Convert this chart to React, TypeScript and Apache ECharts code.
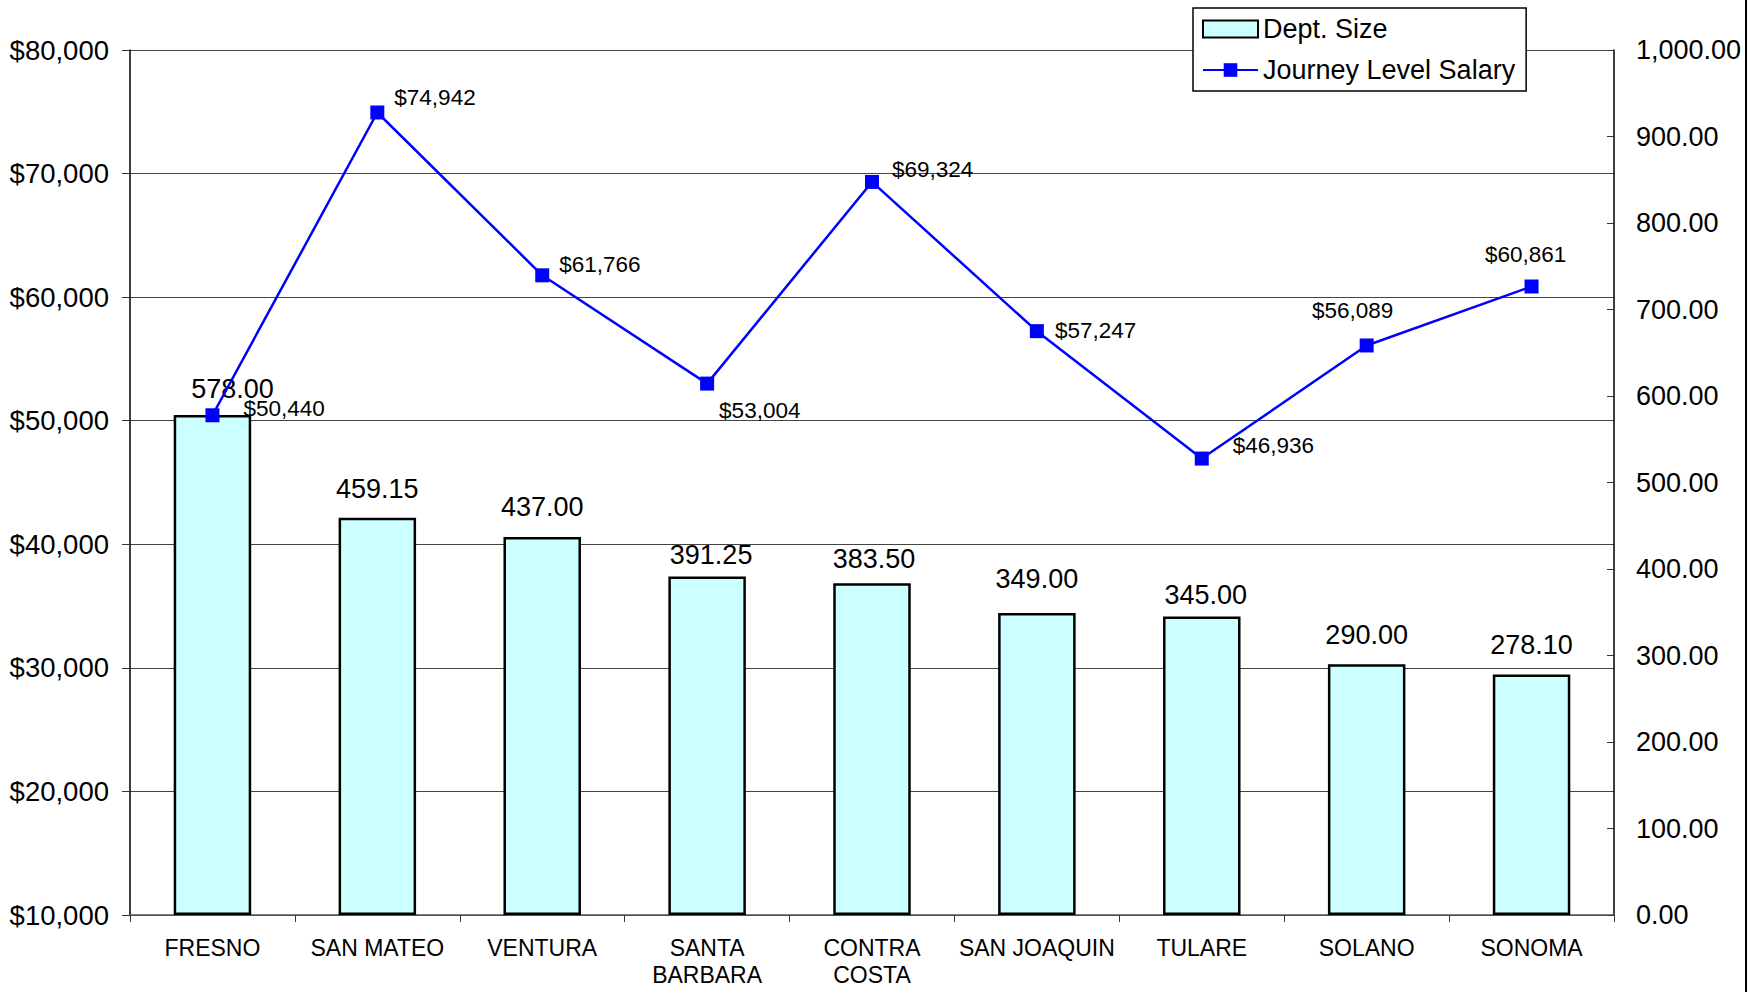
import React, { useEffect, useRef } from "react";
import * as echarts from "echarts";

const categories = ["FRESNO", "SAN MATEO", "VENTURA", "SANTA\nBARBARA", "CONTRA\nCOSTA", "SAN JOAQUIN", "TULARE", "SOLANO", "SONOMA"];
const deptSize = [578.0, 459.15, 437.0, 391.25, 383.5, 349.0, 345.0, 290.0, 278.1];
const salary = [50440, 74942, 61766, 53004, 69324, 57247, 46936, 56089, 60861];

// label placement tweaks (not data)
const barLabelOffsets: [number, number][] = [[20, 2], [0, 0], [0, -1], [4, 7], [2, 4], [0, -6], [4, 7], [0, -1], [0, -1]];
const lineLabelPos: string[] = ["right", "right", "right", "right", "right", "right", "right", "top", "top"];
const lineLabelOffsets: [number, number][] = [[24, -7], [10, -15], [10, -11], [5, 27], [13, -12], [11, -1], [24, -13], [-14, -16], [-6, -14]];

const FONT = "'Liberation Sans', Arial, sans-serif";

export default function App() {
  const ref = useRef<HTMLDivElement>(null);
  useEffect(() => {
    if (!ref.current) return;
    const chart = echarts.init(ref.current, undefined, { renderer: "svg" });
    chart.setOption({
      animation: false,
      backgroundColor: "#ffffff",
      textStyle: { fontFamily: FONT, color: "#000" },
      grid: { left: 130, right: 149, top: 50, bottom: 77, containLabel: false },
      legend: {
        left: 1193,
        top: 8,
        orient: "vertical",
        backgroundColor: "#fff",
        borderColor: "#000",
        borderWidth: 1.5,
        padding: [6, 11, 6, 9],
        itemGap: 11,
        itemWidth: 55,
        itemHeight: 17,
        textStyle: { fontSize: 27, color: "#000", fontFamily: FONT, lineHeight: 30, padding: [0, 0, 0, 0] },
        data: [
          { name: "Dept. Size", icon: "rect" },
          { name: "Journey Level Salary" },
        ],
      },
      xAxis: {
        type: "category",
        data: categories,
        boundaryGap: true,
        axisLine: { show: true, lineStyle: { color: "#555", width: 1.5 } },
        axisTick: { show: true, alignWithLabel: false, length: 7, lineStyle: { color: "#333", width: 1 } },
        axisLabel: { fontSize: 23, color: "#000", margin: 19, lineHeight: 27, fontFamily: FONT, interval: 0 },
      },
      yAxis: [
        {
          type: "value",
          min: 10000,
          max: 80000,
          interval: 10000,
          position: "left",
          axisLine: { show: true, lineStyle: { color: "#000", width: 1.5 } },
          axisTick: { show: true, length: 8, lineStyle: { color: "#333" } },
          axisLabel: {
            fontSize: 27.5,
            color: "#000",
            margin: 21,
            fontFamily: FONT,
            formatter: (v: number) => "$" + v.toLocaleString("en-US"),
          },
          splitLine: { show: true, lineStyle: { color: "#444", width: 1 } },
        },
        {
          type: "value",
          min: 0,
          max: 1000,
          interval: 100,
          position: "right",
          axisLine: { show: true, lineStyle: { color: "#000", width: 1.5 } },
          axisTick: { show: true, inside: true, length: 7, lineStyle: { color: "#333" } },
          axisLabel: {
            fontSize: 27,
            color: "#000",
            margin: 22,
            fontFamily: FONT,
            formatter: (v: number) => v.toLocaleString("en-US", { minimumFractionDigits: 2, maximumFractionDigits: 2 }),
          },
          splitLine: { show: false },
        },
      ],
      series: [
        {
          name: "Dept. Size",
          type: "bar",
          yAxisIndex: 1,
          barWidth: "47%",
          itemStyle: { color: "#CCFFFF", borderColor: "#000", borderWidth: 2.5 },
          data: deptSize.map((v, i) => ({
            value: v,
            label: {
              show: true,
              position: "top",
              distance: 15,
              offset: barLabelOffsets[i],
              fontSize: 27,
              color: "#000",
              fontFamily: FONT,
              formatter: () => v.toFixed(2),
            },
          })),
          z: 2,
        },
        {
          name: "Journey Level Salary",
          type: "line",
          yAxisIndex: 0,
          symbol: "rect",
          symbolSize: 14,
          lineStyle: { color: "#0000FF", width: 2.5 },
          itemStyle: { color: "#0000FF" },
          data: salary.map((v, i) => ({
            value: v,
            label: {
              show: true,
              position: lineLabelPos[i],
              distance: 0,
              offset: lineLabelOffsets[i],
              fontSize: 22.5,
              color: "#000",
              fontFamily: FONT,
              formatter: () => "$" + v.toLocaleString("en-US"),
            },
          })),
          z: 3,
        },
      ],
      graphic: [
        {
          type: "line",
          shape: { x1: 1746, y1: 0, x2: 1746, y2: 992 },
          style: { stroke: "#000", lineWidth: 2 },
        },
      ],
    });
    return () => chart.dispose();
  }, []);
  return (
    <div
      ref={ref}
      style={{ position: "fixed", left: 0, top: 0, width: 1763, height: 992, background: "#fff" }}
    />
  );
}
